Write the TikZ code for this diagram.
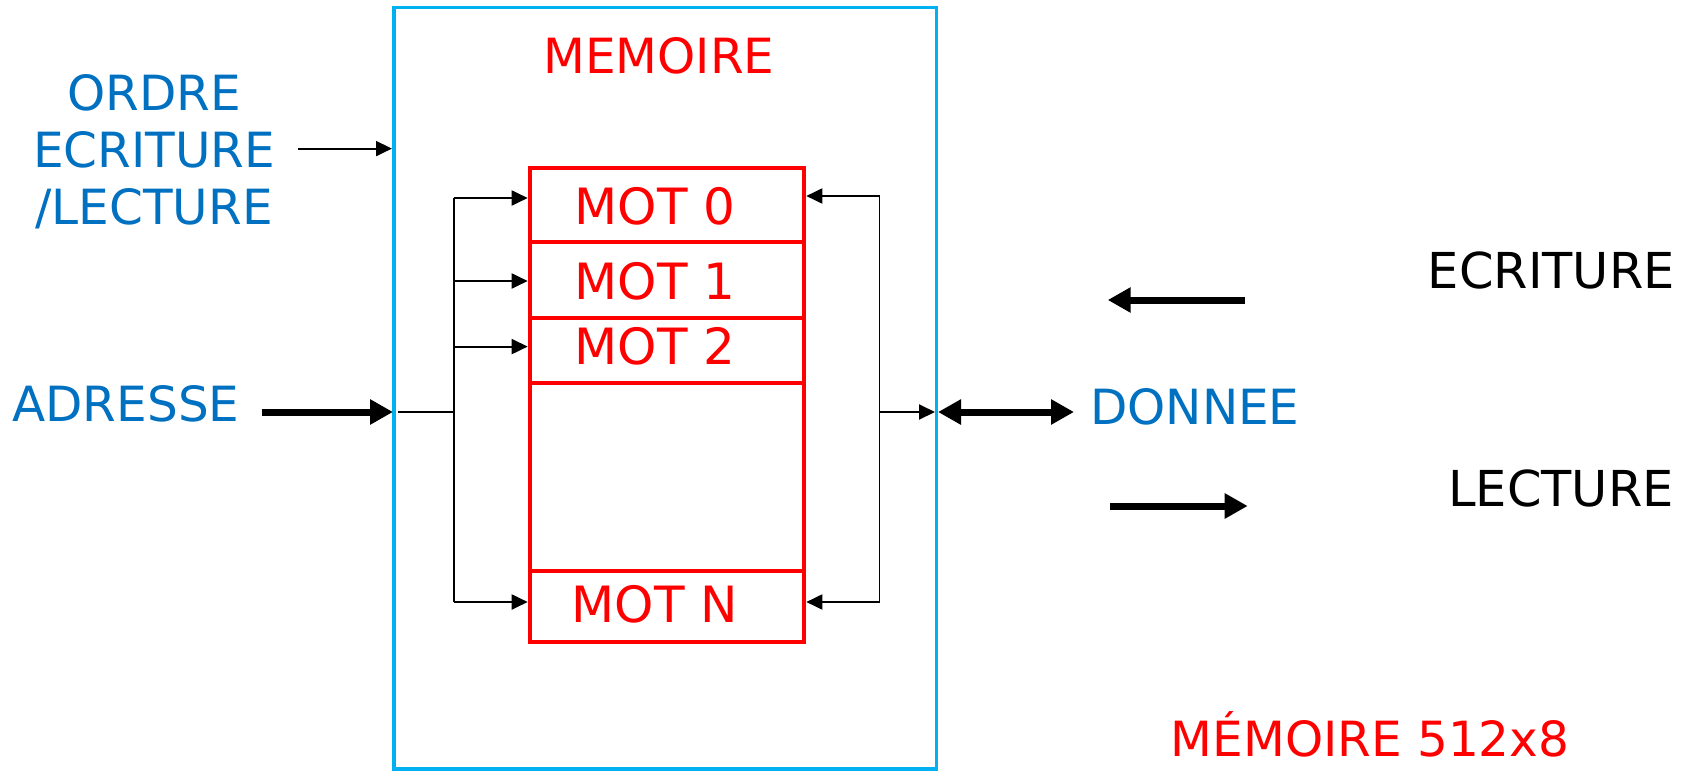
\documentclass[tikz,border=0pt]{standalone}
\usepackage{fontspec}
\setmainfont{DejaVu Sans}
\usetikzlibrary{arrows.meta}
\definecolor{tblue}{HTML}{0070C0}
\definecolor{bblue}{HTML}{00B0F0}
\definecolor{tred}{HTML}{FF0000}
\begin{document}
\begin{tikzpicture}[x=1pt,y=-1pt,
  txt/.style={inner sep=0pt, font=\fontsize{48.5}{57}\selectfont},
  bluetxt/.style={txt, text=tblue},
  redtxt/.style={txt, text=tred},
  blacktxt/.style={inner sep=0pt, text=black, font=\fontsize{49.5}{57}\selectfont},
  mottxt/.style={inner sep=0pt, text=tred, font=\fontsize{50}{60}\selectfont},
  cell/.style={draw=tred, line width=4pt, minimum width=274.6pt, inner sep=0pt},
  thinline/.style={line width=1.9pt, draw=black},
  thinarrow/.style={thinline, -{Triangle[length=16pt,width=15pt]}},
  thickarrow/.style={line width=7pt, draw=black, -{Triangle[length=23pt,width=24pt]}},
  dblarrow/.style={line width=7pt, draw=black, {Triangle[length=23pt,width=24pt]}-{Triangle[length=23pt,width=24pt]}}
]
\useasboundingbox (0,0) rectangle (1688,773);
% memory outer box
\node[draw=bblue, line width=3.5pt, minimum width=542.6pt, minimum height=761.5pt, inner sep=0pt] (mem) at (665.3,388.25) {};
\node[redtxt] (title) at (659,56) {MEMOIRE};
% cells
\node[cell, minimum height=74pt] (c0) at (667,205) {};
\node[cell, minimum height=75.6pt] (c1) at (667,279.8) {};
\node[cell, minimum height=65.4pt] (c2) at (667,350.3) {};
\node[cell, minimum height=187.5pt] (cg) at (667,476.75) {};
\node[cell, minimum height=71pt] (cN) at (667,606) {};
\node[mottxt] (m0) at (655,206) {MOT 0};
\node[mottxt] (m1) at (655,281) {MOT 1};
\node[mottxt] (m2) at (655,346) {MOT 2};
\node[mottxt] (mN) at (655,604) {MOT N};
% left labels
\node[bluetxt, align=center] (ordre) at (154,152) {ORDRE\\ECRITURE\\/LECTURE};
\node[bluetxt] (adr) at (126,404) {ADRESSE};
% coordinates
\coordinate (ordS) at (298,148.6);
\coordinate (ordE) at (392,148.6);
\coordinate (adrS) at (261.6,412);
\coordinate (adrE) at (393,412);
\coordinate (inA) at (398,412);
\coordinate (busL) at (454,412);
\coordinate (busLt) at (454,198);
\coordinate (busLb) at (454,602);
\coordinate (busL1) at (454,281);
\coordinate (busL2) at (454,346.6);
\coordinate (busR) at (879.5,412);
\coordinate (busRt) at (879.5,196);
\coordinate (busRb) at (879.5,602);
\coordinate (outR) at (935,412);
\coordinate (dS) at (938,412);
\coordinate (dE) at (1074,412);
% arrows left
\draw[thinarrow] (ordS) -- (ordE);
\draw[thickarrow] (adrS) -- (adrE);
\draw[thinline] (inA) -- (busL);
\draw[thinline] (busLt) -- (busLb);
\draw[thinarrow] (busLt) -- (busLt -| c0.west);
\draw[thinarrow] (busL1) -- (busL1 -| c1.west);
\draw[thinarrow] (busL2) -- (busL2 -| c2.west);
\draw[thinarrow] (busLb) -- (busLb -| cN.west);
% arrows right
\draw[thinline] (busRt) -- (busRb);
\draw[thinarrow] (busRt) -- (busRt -| c0.east);
\draw[thinarrow] (busRb) -- (busRb -| cN.east);
\draw[thinarrow] (busR) -- (outR);
\draw[dblarrow] (dS) -- (dE);
\node[bluetxt, anchor=west] (donnee) at (1090,407) {DONNEE};
% legend
\node[blacktxt, anchor=east] (ecr) at (1675,270) {ECRITURE};
\node[blacktxt, anchor=east] (lec) at (1674,488) {LECTURE};
\coordinate (eS) at (1244.5,300);
\coordinate (eE) at (1107.7,300);
\coordinate (lS) at (1110,506);
\coordinate (lE) at (1247.7,506);
\draw[thickarrow] (eS) -- (eE);
\draw[thickarrow] (lS) -- (lE);
\node[redtxt] (m512) at (1370,734) {MÉMOIRE 512x8};
\end{tikzpicture}
\end{document}
